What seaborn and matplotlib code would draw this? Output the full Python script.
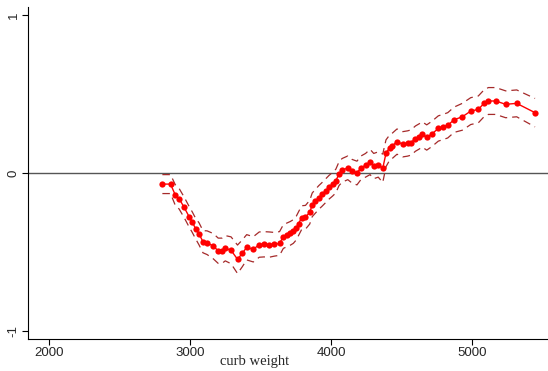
import numpy as np
import pandas as pd
import matplotlib
matplotlib.use("Agg")
import matplotlib.pyplot as plt
import seaborn as sns

curb_weight = [2804, 2862, 2895, 2923, 2959, 2994, 3016, 3040, 3064, 3092,
               3121, 3165, 3200, 3227, 3250, 3291, 3337, 3371, 3402, 3449,
               3491, 3525, 3562, 3598, 3635, 3662, 3686, 3711, 3733, 3754,
               3770, 3792, 3819, 3849, 3867, 3890, 3913, 3938, 3961, 3986,
               4011, 4034, 4057, 4079, 4119, 4150, 4184, 4211, 4245, 4277,
               4303, 4335, 4367, 4390, 4415, 4433, 4468, 4509, 4543, 4567,
               4599, 4624, 4647, 4679, 4716, 4761, 4796, 4828, 4872, 4931,
               4991, 5045, 5085, 5116, 5168, 5239, 5317, 5447]
effect = [-0.070, -0.070, -0.138, -0.163, -0.218, -0.277, -0.311, -0.352, -0.385, -0.435,
          -0.441, -0.463, -0.492, -0.492, -0.476, -0.489, -0.546, -0.508, -0.470, -0.483,
          -0.453, -0.451, -0.453, -0.451, -0.446, -0.402, -0.392, -0.382, -0.370, -0.348,
          -0.320, -0.282, -0.280, -0.248, -0.201, -0.178, -0.155, -0.134, -0.113, -0.090,
          -0.071, -0.051, -0.004, 0.017, 0.033, 0.011, 0.000, 0.032, 0.049, 0.070,
          0.044, 0.054, 0.030, 0.125, 0.160, 0.171, 0.199, 0.182, 0.187, 0.193,
          0.218, 0.231, 0.244, 0.225, 0.248, 0.282, 0.292, 0.302, 0.337, 0.356,
          0.392, 0.403, 0.441, 0.456, 0.456, 0.435, 0.441, 0.382]
ci_half = [0.060, 0.060, 0.065, 0.065, 0.065, 0.065, 0.065, 0.065, 0.070, 0.070,
           0.075, 0.080, 0.080, 0.080, 0.080, 0.085, 0.090, 0.085, 0.080, 0.080,
           0.080, 0.080, 0.080, 0.075, 0.075, 0.075, 0.075, 0.075, 0.075, 0.075,
           0.075, 0.075, 0.075, 0.075, 0.075, 0.075, 0.075, 0.075, 0.075, 0.075,
           0.075, 0.075, 0.075, 0.075, 0.075, 0.075, 0.075, 0.075, 0.075, 0.080,
           0.080, 0.080, 0.090, 0.085, 0.080, 0.080, 0.080, 0.080, 0.080, 0.080,
           0.080, 0.080, 0.080, 0.080, 0.080, 0.080, 0.080, 0.080, 0.080, 0.085,
           0.085, 0.085, 0.085, 0.085, 0.085, 0.085, 0.085, 0.090]
x_ticks = [2000, 3000, 4000, 5000]
y_ticks = [-1, 0, 1]
x_label = "curb weight"

df = pd.DataFrame({"x": curb_weight, "y": effect, "h": ci_half})
df["lo"] = df["y"] - df["h"]
df["hi"] = df["y"] + df["h"]

sns.set_style("ticks")
fig = plt.figure(figsize=(5.48, 3.71), dpi=100)
ax = fig.add_axes([28 / 548, 1 - 339 / 371, 520 / 548, 332 / 371])

ax.axhline(0, color="#555555", lw=1.0, zorder=1)
band_col = "#A52A2A"
sns.lineplot(data=df, x="x", y="hi", ax=ax, color=band_col, lw=0.9,
             linestyle=(0, (6, 4)), zorder=2)
sns.lineplot(data=df, x="x", y="lo", ax=ax, color=band_col, lw=0.9,
             linestyle=(0, (6, 4)), zorder=2)
sns.lineplot(data=df, x="x", y="y", ax=ax, color="#FF0000", lw=1.0,
             marker="o", markersize=4.5, markeredgewidth=0, zorder=3)

ax.set_xlim(1851, 5539)
ax.set_ylim(-1.0506, 1.051)
ax.set_xticks(x_ticks)
ax.set_yticks(y_ticks)
ax.set_xticklabels([str(v) for v in x_ticks], fontsize=9.5, family="Liberation Sans")
ax.set_yticklabels([str(v) for v in y_ticks], fontsize=9.5, family="Liberation Sans",
                   rotation=90, va="center")
ax.tick_params(axis="both", length=4, width=0.8, color="black", pad=2)
ax.set_xlabel("")
ax.set_ylabel("")
ax.text(0.4365, (339 - 364.5) / 332, x_label, transform=ax.transAxes, ha="center",
        va="baseline", fontsize=10.5, family="Liberation Serif")
sns.despine(ax=ax)
for s in ["left", "bottom"]:
    ax.spines[s].set_linewidth(0.8)
    ax.spines[s].set_color("black")

fig.savefig("out.png", dpi=100)
